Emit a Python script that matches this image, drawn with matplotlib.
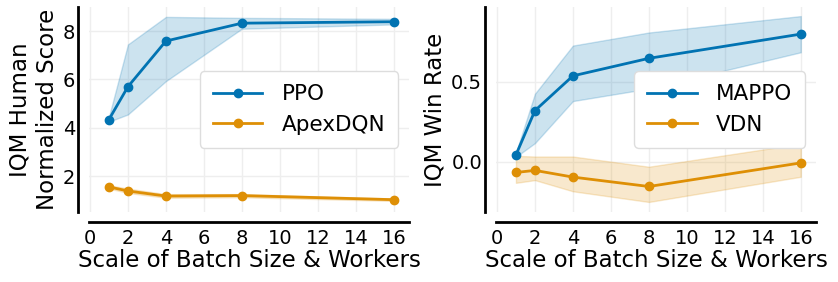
import matplotlib
matplotlib.use("Agg")
import matplotlib.pyplot as plt
import numpy as np

scales = [1, 2, 4, 8, 16]

ppo_mean = [4.34, 5.70, 7.59, 8.33, 8.39]
ppo_low = [4.25, 4.55, 5.93, 8.10, 8.28]
ppo_high = [4.45, 7.45, 8.59, 8.55, 8.51]

apex_mean = [1.55, 1.38, 1.17, 1.19, 1.02]
apex_low = [1.48, 1.30, 1.10, 1.12, 0.97]
apex_high = [1.62, 1.48, 1.25, 1.25, 1.07]

mappo_mean = [0.042, 0.32, 0.538, 0.648, 0.80]
mappo_low = [0.03, 0.116, 0.38, 0.458, 0.686]
mappo_high = [0.055, 0.426, 0.728, 0.81, 0.913]

vdn_mean = [-0.068, -0.055, -0.097, -0.156, -0.008]
vdn_low = [-0.133, -0.116, -0.186, -0.253, -0.095]
vdn_high = [0.036, 0.032, 0.032, -0.032, 0.112]

x_ticks = [0, 2, 4, 6, 8, 10, 12, 14, 16]
left_yticks = [2, 4, 6, 8]
right_yticks = [0.0, 0.5]

BLUE = "#0173b2"
ORANGE = "#de8f05"

plt.rcParams['font.family'] = ['DejaVu Sans']

fig = plt.figure(figsize=(8.38, 2.82), dpi=100)
ax1 = fig.add_axes([89/838, 1-212/282, 320/838, 205/282])
ax2 = fig.add_axes([496/838, 1-212/282, 320/838, 205/282])

def draw(ax, series, ylim, yticks, yticklabels, ylabel):
    for mean, lo, hi, color, label in series:
        ax.fill_between(scales, lo, hi, color=color, alpha=0.2, linewidth=1)
        ax.plot(scales, mean, color=color, marker='o', markersize=6, linewidth=2, label=label)
    ax.set_xlim(-0.05, 16.8)
    ax.set_ylim(*ylim)
    ax.set_xticks(x_ticks)
    ax.set_yticks(yticks)
    ax.set_yticklabels(yticklabels)
    ax.grid(True, color='#eeeeee', linewidth=1)
    ax.set_axisbelow(True)
    for s in ['top', 'right']:
        ax.spines[s].set_visible(False)
    ax.spines['left'].set_position(('outward', 8))
    ax.spines['bottom'].set_position(('outward', 7))
    ax.spines['left'].set_linewidth(2)
    ax.spines['bottom'].set_linewidth(2)
    ax.spines['left'].set_color('black')
    ax.spines['bottom'].set_color('black')
    ax.tick_params(axis='both', length=0, labelsize=14)
    ax.tick_params(axis='x', pad=5)
    ax.tick_params(axis='y', pad=2)
    ax.set_xlabel('Scale of Batch Size & Workers', fontsize=16.5, labelpad=1)
    ax.set_ylabel(ylabel, fontsize=16.5, labelpad=3)
    ax.legend(loc='center right', fontsize=15.5, handlelength=2.3,
              handletextpad=0.9, borderpad=0.6, labelspacing=0.5,
              framealpha=1, edgecolor='#dddddd')

draw(ax1, [(ppo_mean, ppo_low, ppo_high, BLUE, 'PPO'),
           (apex_mean, apex_low, apex_high, ORANGE, 'ApexDQN')],
     (0.51, 9.0), left_yticks, ['2', '4', '6', '8'], 'IQM Human\nNormalized Score')
draw(ax2, [(mappo_mean, mappo_low, mappo_high, BLUE, 'MAPPO'),
           (vdn_mean, vdn_low, vdn_high, ORANGE, 'VDN')],
     (-0.316, 0.97), right_yticks, ['0.0', '0.5'], 'IQM Win Rate')

fig.savefig('out.png', dpi=100)
